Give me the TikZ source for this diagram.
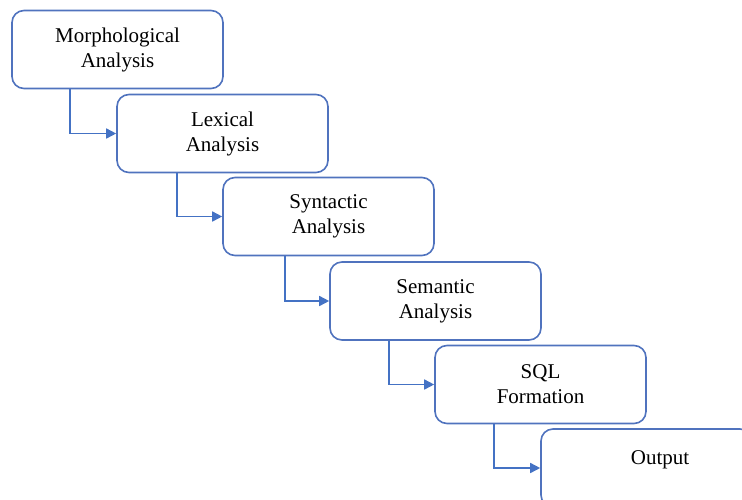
\documentclass[tikz,border=0pt]{standalone}
\usepackage{fontspec}
\setmainfont{Liberation Serif}
\usetikzlibrary{arrows.meta,calc}
\definecolor{boxblue}{RGB}{80,115,190}
\definecolor{arrowblue}{RGB}{68,114,196}
\tikzset{
  stagebox/.style={draw=boxblue, line width=1.6pt, rounded corners=12pt, fill=white,
    minimum width=211pt, minimum height=78pt, inner sep=0pt, align=center,
    font=\fontsize{21}{25}\selectfont},
  link/.style={draw=arrowblue, line width=1.6pt, -{Triangle[length=10pt,width=10pt]}},
  txt/.style={font=\fontsize{21}{25}\selectfont, inner sep=0pt}
}
\begin{document}
\begin{tikzpicture}[x=1pt,y=1pt]
\useasboundingbox (0,0) rectangle (742,-499);
\clip (0,0) rectangle (742,-499);
\node[stagebox] (m) at (117.5,-49.5) {Morphological\\Analysis};
\node[stagebox] (l) at (222.5,-133.5) {Lexical\\Analysis};
\node[stagebox] (s) at (328.5,-216.5) {Syntactic\\Analysis};
\node[stagebox] (e) at (435.5,-301) {Semantic\\Analysis};
\node[stagebox] (q) at (540.5,-384.5) {SQL\\Formation};
\node[stagebox] (o) at (646.5,-468) {};
\node[txt] (ot) at (660,-460) {Output};
\draw[link] ($(m.south west)+(59,0)$) |- (l.west);
\draw[link] ($(l.south west)+(61,0)$) |- (s.west);
\draw[link] ($(s.south west)+(63,0)$) |- (e.west);
\draw[link] ($(e.south west)+(60,0)$) |- (q.west);
\draw[link] ($(q.south west)+(60,0)$) |- (o.west);
\end{tikzpicture}
\end{document}
